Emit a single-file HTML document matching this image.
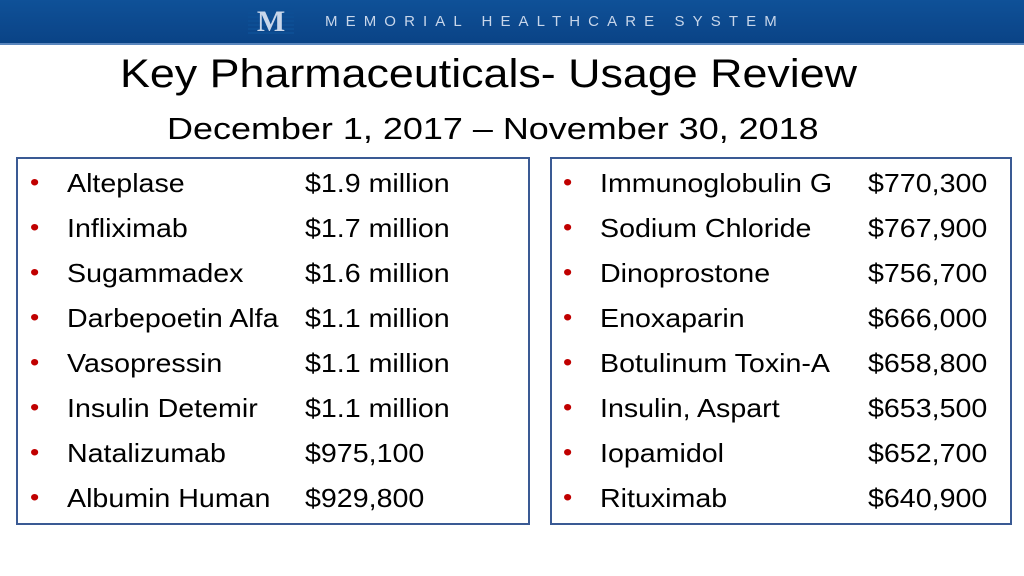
<!DOCTYPE html>
<html><head><meta charset="utf-8"><style>
body{margin:0;width:1024px;height:576px;background:#fff;position:relative;overflow:hidden;font-family:"Liberation Sans",sans-serif;color:#000}
.hdr{position:absolute;left:0;top:0;width:1024px;height:43px;background:linear-gradient(#0f5198,#0a4386);border-bottom:2px solid #5a86bd}
.logo{position:absolute;left:248px;top:8px;width:46px;height:28px;color:#c8d6ea;font:bold 30px "Liberation Serif",serif;line-height:28px;text-align:center;background:repeating-linear-gradient(#0d4e94 0 2px,transparent 2px 4px)}
.org{position:absolute;left:325px;top:13px;color:#c8d6ea;font-size:15px;letter-spacing:8.1px;white-space:nowrap}
.title{position:absolute;left:120px;top:52px;font-size:40px;white-space:nowrap;transform-origin:0 0;transform:scaleX(1.12)}
.sub{position:absolute;left:167px;top:111px;font-size:31px;white-space:nowrap;transform-origin:0 0;transform:scaleX(1.16)}
.box{position:absolute;top:157px;height:368px;border:2px solid #3a5a94;box-sizing:border-box}
.row{position:absolute;font-size:26px;white-space:nowrap;line-height:30px;transform-origin:0 0;transform:scaleX(1.1)}
.bul{color:#c00000;font-size:24px}
</style></head><body>
<div class="hdr">
<div class="logo">M</div>
<div class="org">MEMORIAL HEALTHCARE SYSTEM</div>
</div>
<div class="title">Key Pharmaceuticals- Usage Review</div>
<div class="sub">December 1, 2017 – November 30, 2018</div>
<div class="box" style="left:16px;width:514px"></div>
<div class="box" style="left:550px;width:462px"></div>
<div id="rows"></div>
<script>
const leftNames=["Alteplase","Infliximab","Sugammadex","Darbepoetin Alfa","Vasopressin","Insulin Detemir","Natalizumab","Albumin Human"];
const leftValues=["$1.9 million","$1.7 million","$1.6 million","$1.1 million","$1.1 million","$1.1 million","$975,100","$929,800"];
const rightNames=["Immunoglobulin G","Sodium Chloride","Dinoprostone","Enoxaparin","Botulinum Toxin-A","Insulin, Aspart","Iopamidol","Rituximab"];
const rightValues=["$770,300","$767,900","$756,700","$666,000","$658,800","$653,500","$652,700","$640,900"];
const c=document.getElementById('rows');
function add(x,y,t,name,cls){const d=document.createElement('div');d.className='row'+(cls?' '+cls:'');d.style.left=x+'px';d.style.top=y+'px';d.textContent=t;


c.appendChild(d);}
function col(names,vals,bx,nx,vx,side){names.forEach((n,i)=>{const y=168+i*45;
add(bx,y,'•',side+'-bullet','bul');add(nx,y,n,side+'-drug-name');add(vx,y,vals[i],side+'-drug-cost');});}
col(leftNames,leftValues,30,67,305,'left');
col(rightNames,rightValues,563,600,868,'right');
</script>
</body></html>
